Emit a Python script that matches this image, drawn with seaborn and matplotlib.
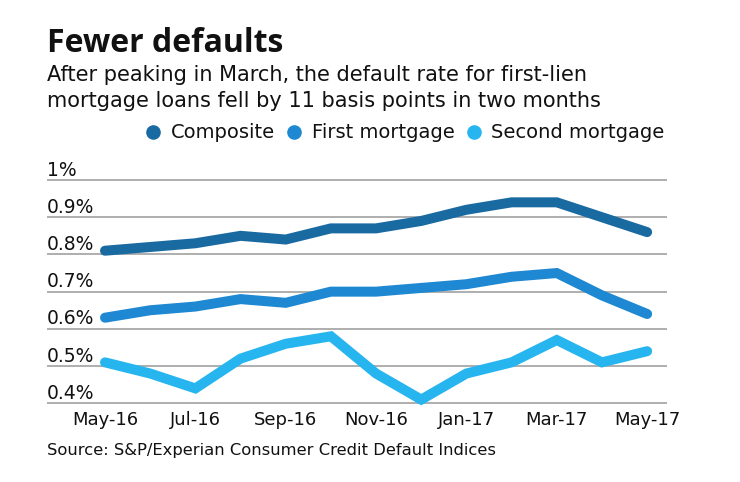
import matplotlib
matplotlib.use("Agg")
import matplotlib.pyplot as plt
import matplotlib.transforms as mtransforms
from matplotlib.lines import Line2D
import seaborn as sns
import pandas as pd

months = ["May-16", "Jun-16", "Jul-16", "Aug-16", "Sep-16", "Oct-16", "Nov-16",
          "Dec-16", "Jan-17", "Feb-17", "Mar-17", "Apr-17", "May-17"]
composite = [0.81, 0.82, 0.83, 0.85, 0.84, 0.87, 0.87, 0.89, 0.92, 0.94, 0.94, 0.90, 0.86]
first_mortgage = [0.63, 0.65, 0.66, 0.68, 0.67, 0.70, 0.70, 0.71, 0.72, 0.74, 0.75, 0.69, 0.64]
second_mortgage = [0.51, 0.48, 0.44, 0.52, 0.56, 0.58, 0.48, 0.41, 0.48, 0.51, 0.57, 0.51, 0.54]
series_names = ["Composite", "First mortgage", "Second mortgage"]
y_ticks = [0.4, 0.5, 0.6, 0.7, 0.8, 0.9, 1.0]
y_tick_labels = ["0.4%", "0.5%", "0.6%", "0.7%", "0.8%", "0.9%", "1%"]
x_tick_labels = ["May-16", "Jul-16", "Sep-16", "Nov-16", "Jan-17", "Mar-17", "May-17"]

colors = ["#1a6aa2", "#1e88d2", "#27b5f0"]

sns.set_theme(style="white")
plt.rcParams["font.family"] = ["DejaVu Sans"]

rows = []
for name, vals in zip(series_names, [composite, first_mortgage, second_mortgage]):
    for i, (m, v) in enumerate(zip(months, vals)):
        rows.append({"idx": i, "month": m, "value": v, "series": name})
df = pd.DataFrame(rows)

W, H = 740, 482
fig = plt.figure(figsize=(W / 100, H / 100), dpi=100)
ax_left = 47 / W
ax_right = 667 / W
ax_top_px = 180 - 7.44
ax_bot_px = 403.3 + 7.44
ax = fig.add_axes([ax_left, 1 - ax_bot_px / H, ax_right - ax_left, (ax_bot_px - ax_top_px) / H])

sns.lineplot(data=df, x="idx", y="value", hue="series", hue_order=series_names,
             palette=colors, linewidth=7.2, ax=ax, legend=False,
             solid_capstyle="round", solid_joinstyle="miter", clip_on=False, zorder=3)

ax.set_xlim(-1.284, 12.44)
ax.set_ylim(0.38, 1.02)
ax.set_yticks(y_ticks)
ax.set_yticklabels(y_tick_labels)
ax.set_xticks(list(range(0, 13, 2)))
ax.set_xticklabels(x_tick_labels)
ax.set_xlabel("")
ax.set_ylabel("")
for s in ax.spines.values():
    s.set_visible(False)
ax.grid(axis="y", color="#a8a8a8", linewidth=1.3)
ax.grid(axis="x", visible=False)
ax.tick_params(axis="both", length=0)
ax.tick_params(axis="x", pad=0, labelsize=13, labelcolor="#111111")
ax.tick_params(axis="y", pad=0, labelsize=13.5, labelcolor="#111111")
offset = mtransforms.ScaledTranslation(0, 4.5 / 100, fig.dpi_scale_trans)
for lbl in ax.get_yticklabels():
    lbl.set_horizontalalignment("left")
    lbl.set_verticalalignment("baseline")
    lbl.set_transform(lbl.get_transform() + offset)

fig.text(47 / W, 1 - 51.7 / H, "Fewer defaults", fontsize=23, fontweight="bold",
         family=["Open Sans", "DejaVu Sans"], color="#111111", va="baseline", ha="left")
fig.text(47 / W, 1 - 80.7 / H, "After peaking in March, the default rate for first-lien",
         fontsize=15, color="#111111", va="baseline", ha="left")
fig.text(47 / W, 1 - 106.7 / H, "mortgage loans fell by 11 basis points in two months",
         fontsize=15, color="#111111", va="baseline", ha="left")
fig.text(47 / W, 1 - 455 / H, "Source: S&P/Experian Consumer Credit Default Indices",
         fontsize=11.8, color="#111111", va="baseline", ha="left")

handles = [Line2D([], [], marker="o", linestyle="none", markersize=9.5, color=c) for c in colors]
fig.legend(handles, series_names, loc="center", bbox_to_anchor=(405 / W, 1 - 133 / H),
           ncol=3, frameon=False, fontsize=14, handlelength=0.8, handletextpad=0.5,
           columnspacing=0.6, borderaxespad=0, borderpad=0, labelcolor="#111111")

fig.savefig("out.png", dpi=100)
